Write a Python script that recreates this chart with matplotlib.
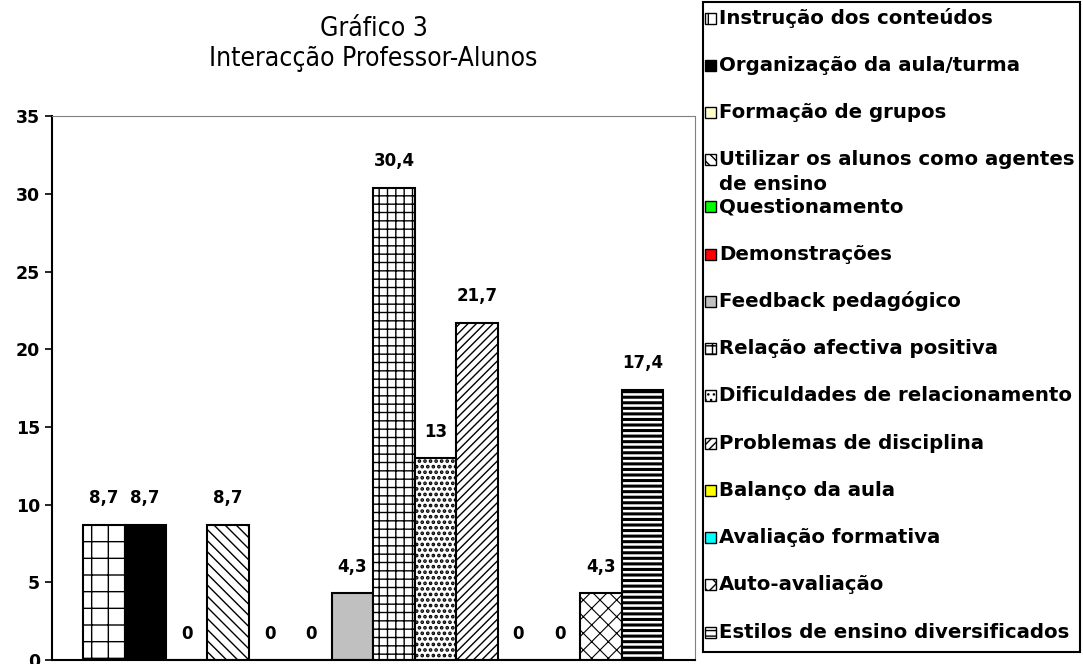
import numpy as np
import matplotlib
matplotlib.use("Agg")
import matplotlib.pyplot as plt
from matplotlib.patches import Rectangle

# dados do gráfico
categorias = ["Instrução dos conteúdos", "Organização da aula/turma", "Formação de grupos",
              "Utilizar os alunos como agentes\nde ensino", "Questionamento", "Demonstrações",
              "Feedback pedagógico", "Relação afectiva positiva", "Dificuldades de relacionamento",
              "Problemas de disciplina", "Balanço da aula", "Avaliação formativa",
              "Auto-avaliação", "Estilos de ensino diversificados"]
valores = [8.7, 8.7, 0, 8.7, 0, 0, 4.3, 30.4, 13, 21.7, 0, 0, 4.3, 17.4]
rotulos = ["8,7", "8,7", "0", "8,7", "0", "0", "4,3", "30,4", "13", "21,7", "0", "0", "4,3", "17,4"]

cores = ["white", "black", "#FFFFCC", "white", "#00FF00", "#FF0000", "#C0C0C0",
         "white", "white", "white", "#FFFF00", "#00FFFF", "white", "white"]
padroes = ["+", None, None, "\\\\\\", None, None, None, "++", "...", "////", None, None, "xx", "---"]
lw_padrao = [1.0, 1.0, 1.0, 1.0, 1.0, 1.0, 1.0, 1.0, 1.8, 1.0, 1.0, 1.0, 0.8, 2.2]

fig = plt.figure(figsize=(10.83, 6.64), dpi=100)
ax = fig.add_axes([0.048, 0.006, 0.594, 0.819])

x = np.arange(len(valores))
barras = ax.bar(x, valores, width=1.0, color=cores, edgecolor="black", linewidth=1.5, zorder=2)
for b, h, lw in zip(barras, padroes, lw_padrao):
    if h:
        b.set_hatch(h)
        if hasattr(b, "set_hatch_linewidth"):
            b.set_hatch_linewidth(lw)

for xi, v, r in zip(x, valores, rotulos):
    ax.annotate(r, (xi, v), xytext=(0, 19), textcoords="offset points",
                ha="center", va="center", fontsize=12, fontweight="bold")

ax.set_xlim(-1.25, 14.27)
ax.set_ylim(0, 35)
ax.set_yticks(range(0, 36, 5))
ax.set_xticks([])
ax.tick_params(axis="y", direction="out", length=5, width=1.2, labelsize=12.5)
for t in ax.get_yticklabels():
    t.set_fontweight("bold")
ax.spines["left"].set_color("black")
ax.spines["left"].set_linewidth(1.5)
ax.spines["bottom"].set_color("black")
ax.spines["bottom"].set_linewidth(1.5)
ax.spines["top"].set_color("#808080")
ax.spines["right"].set_color("#808080")

fig.text(0.345, 1 - 44 / 664, "Gráfico 3\nInteracção Professor-Alunos", ha="center", va="center",
         fontsize=19, linespacing=1.2, family="DejaVu Sans", fontstretch="condensed")

# legenda desenhada à mão
fig.patches.append(Rectangle((0.649, 0.018), 0.348, 0.979, transform=fig.transFigure,
                             facecolor="white", edgecolor="black", linewidth=1.5))
ys = np.linspace(18, 632, len(categorias))
for y, nome, c, h in zip(ys, categorias, cores, padroes):
    yf = 1 - y / 664
    q = Rectangle((705 / 1083, yf - 5.5 / 664), 11 / 1083, 11 / 664, transform=fig.transFigure,
                  facecolor=c, edgecolor="black", linewidth=1.0, hatch=h)
    fig.patches.append(q)
    for k, linha in enumerate(nome.split("\n")):
        fig.text(719 / 1083, yf - k * 25 / 664, linha, ha="left", va="center",
                 fontsize=14.2, fontweight="bold")

fig.savefig("out.png", dpi=100)
